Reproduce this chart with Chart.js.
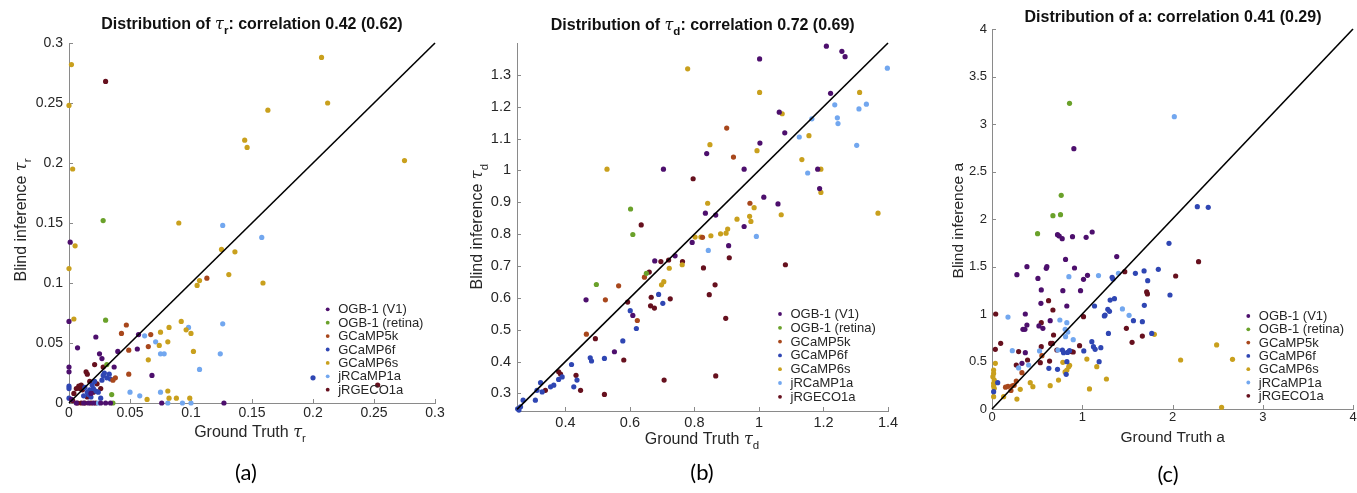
<!DOCTYPE html>
<html><head><meta charset="utf-8">
<script src="https://cdn.jsdelivr.net/npm/chart.js@4.4.1/dist/chart.umd.min.js"></script>
<style>
html,body{margin:0;padding:0;background:#fff;overflow:hidden;width:1357px;height:493px;position:relative;}
canvas{position:absolute;top:0;}
</style></head><body>
<canvas id="ca" width="460" height="493" style="left:0px"></canvas>
<canvas id="cb" width="460" height="493" style="left:455px"></canvas>
<canvas id="cc" width="460" height="493" style="left:915px"></canvas>
<script>
// ---------- series names & colours ----------
const SERIES = ['OGB-1 (V1)','OGB-1 (retina)','GCaMP5k','GCaMP6f','GCaMP6s','jRCaMP1a','jRGECO1a'];
const COLORS = ['#4d0f6d','#6aa12a','#a8471c','#2f46b3','#c9a01d','#72a7ef','#66101e'];

// ---------- panel (a): tau_r ----------
const A_TICKS = [0,0.05,0.1,0.15,0.2,0.25,0.3];
const A_OGB1_V1 = [[0.001,0.134],[0,0.068],[0.007,0.046],[0.022,0.055],[0.025,0.041],[0.027,0.037],[0.040,0.043],[0.056,0.045],[0.057,0.057],[0.068,0.023],[0.037,0.030],[0,0.030],[0,0.026],[0.127,0],[0.076,0],[0.006,0],[0.012,0],[0.016,0],[0.020,0],[0.026,0],[0.030,0],[0.034,0],[0.018,0.008],[0.002,0.003]];
const A_OGB1_RET = [[0.028,0.152],[0.030,0.069],[0.031,0.032],[0.035,0.007],[0.036,0]];
const A_GCAMP5K = [[0.113,0.104],[0.047,0.065],[0.043,0.058],[0.049,0.044],[0.049,0.024],[0.065,0.047],[0.067,0.057],[0.038,0.021],[0.036,0.019]];
const A_GCAMP6F = [[0.200,0.021],[0.028,0.023],[0.031,0.021],[0.034,0.020],[0.027,0.019],[0.029,0.025],[0.020,0.012],[0.017,0.011],[0.016,0.007],[0.022,0.010],[0.018,0.005],[0.024,0.009],[0.013,0.013],[0.019,0.015],[0.015,0.009],[0.026,0.004],[0,0.014],[0,0.012],[0,0.004],[0.021,0.018],[0.033,0.024],[0.012,0.006]];
const A_GCAMP6S = [[0.002,0.282],[0,0.248],[0.003,0.195],[0.005,0.131],[0,0.112],[0.004,0.070],[0.207,0.288],[0.212,0.250],[0.163,0.244],[0.144,0.219],[0.146,0.213],[0.275,0.202],[0.090,0.150],[0.125,0.128],[0.136,0.126],[0.131,0.107],[0.107,0.102],[0.105,0.098],[0.159,0.100],[0.092,0.068],[0.082,0.063],[0.075,0.059],[0.096,0.061],[0.100,0.058],[0.102,0.043],[0.081,0.051],[0.065,0.036],[0.074,0.048],[0.081,0.010],[0.064,0.003],[0.082,0.004],[0.088,0.004],[0.099,0.004]];
const A_JRCAMP1A = [[0.126,0.148],[0.158,0.138],[0.098,0.063],[0.126,0.066],[0.062,0.056],[0.071,0.051],[0.075,0.041],[0.078,0.041],[0.124,0.041],[0.107,0.028],[0.050,0.009],[0.058,0.006],[0.075,0.009],[0.081,0],[0.093,0],[0.100,0],[0.024,0]];
const A_JRGECO1A = [[0.030,0.268],[0.253,0.015],[0.021,0.032],[0.014,0.026],[0.015,0.024],[0.008,0.014],[0.009,0.012],[0.010,0.015],[0.011,0.011],[0.004,0.008],[0.028,0.030],[0.017,0.018],[0.012,0.013],[0.006,0.012],[0.023,0.016],[0.026,0.012],[0.020,0.009],[0.007,0],[0.010,0],[0.013,0],[0.018,0],[0.022,0],[0.003,0.002],[0.015,0.005]];

// ---------- panel (b): tau_d ----------
const B_XTICKS = [0.4,0.6,0.8,1,1.2,1.4];
const B_YTICKS = [0.3,0.4,0.5,0.6,0.7,0.8,0.9,1,1.1,1.2,1.3];
const B_OGB1_V1 = [[1.209,1.390],[1.257,1.374],[1.267,1.357],[1.002,1.350],[1.222,1.242],[1.063,1.183],[1.080,1.118],[1.003,1.086],[0.838,1.053],[0.704,1.004],[0.954,1.004],[1.182,1.004],[1.188,0.943],[1.015,0.916],[1.059,0.895],[0.834,0.866],[0.866,0.860],[0.954,0.824],[0.793,0.774],[0.906,0.764],[0.677,0.716],[0.740,0.732],[0.464,0.594],[0.609,0.545],[0.552,0.431]];
const B_OGB1_RET = [[0.602,0.879],[0.609,0.799],[0.496,0.642],[0.651,0.677]];
const B_GCAMP5K = [[0.900,1.133],[0.921,1.042],[0.972,0.897],[0.825,0.790],[0.645,0.665],[0.565,0.638],[0.524,0.594],[0.623,0.529],[0.465,0.486]];
const B_GCAMP6F = [[0.256,0.248],[0.261,0.258],[0.269,0.279],[0.307,0.279],[0.323,0.334],[0.328,0.305],[0.312,0.310],[0.354,0.321],[0.364,0.326],[0.379,0.344],[0.390,0.352],[0.419,0.391],[0.426,0.321],[0.436,0.342],[0.477,0.412],[0.481,0.402],[0.521,0.410],[0.578,0.465],[0.620,0.504],[0.601,0.560],[0.689,0.611],[0.702,0.583],[0.252,0.252]];
const B_GCAMP6S = [[0.779,1.319],[1.002,1.245],[1.312,1.245],[0.529,1.004],[0.848,1.081],[1.072,1.178],[0.994,1.062],[1.155,1.109],[1.133,1.034],[1.192,1.004],[1.192,0.931],[1.369,0.866],[0.841,0.897],[0.985,0.883],[0.971,0.856],[0.975,0.840],[0.932,0.847],[1.069,0.861],[0.903,0.816],[0.898,0.803],[0.881,0.801],[0.851,0.795],[0.802,0.791],[0.820,0.791],[0.722,0.693],[0.762,0.704],[0.705,0.651],[0.698,0.641]];
const B_JRCAMP1A = [[1.398,1.321],[1.235,1.206],[1.333,1.208],[1.310,1.193],[1.243,1.165],[1.245,1.147],[1.164,1.162],[1.125,1.105],[1.151,0.992],[1.303,1.079],[0.992,0.793],[0.843,0.749]];
const B_JRGECO1A = [[0.796,0.974],[0.635,0.829],[0.696,0.714],[0.720,0.719],[0.763,0.714],[0.660,0.681],[0.828,0.694],[0.908,0.726],[1.082,0.704],[0.864,0.641],[0.846,0.610],[0.666,0.602],[0.725,0.597],[0.593,0.587],[0.664,0.575],[0.676,0.568],[0.897,0.536],[0.493,0.472],[0.581,0.405],[0.379,0.368],[0.385,0.361],[0.433,0.357],[0.338,0.310],[0.447,0.310],[0.521,0.297],[0.706,0.342],[0.866,0.355]];

// ---------- panel (c): a ----------
const C_XTICKS = [0,1,2,3,4];
const C_YTICKS = [0,0.5,1,1.5,2,2.5,3,3.5,4];
const C_OGB1_V1 = [[0.907,2.740],[0.726,1.835],[0.745,1.821],[0.778,1.793],[0.892,1.814],[1.043,1.807],[1.110,1.863],[1.382,1.604],[0.815,1.575],[0.914,1.484],[0.387,1.498],[0.601,1.481],[0.608,1.498],[0.276,1.414],[0.509,1.375],[1.014,1.365],[1.058,1.407],[0.546,1.253],[0.785,1.246],[0.981,1.246],[0.542,1.112],[0.829,1.084],[0.369,1.000],[0.387,0.884],[0.645,0.930],[0.343,0.839],[0.365,0.839],[0.520,0.874],[0.564,0.849],[0.369,0.593],[0.332,0.481]];
const C_OGB1_RET = [[0.859,3.218],[0.767,2.249],[0.759,2.046],[0.675,2.035],[0.505,1.846]];
const C_GCAMP5K = [[0.177,0.239],[0.225,0.245],[0.245,0.250],[0.210,0.195],[0.269,0.295],[0.332,0.382],[0.553,0.561],[0.150,0.230]];
const C_GCAMP6F = [[2.275,2.130],[2.396,2.123],[1.961,1.744],[1.843,1.470],[1.685,1.453],[1.589,1.428],[1.725,1.351],[1.331,1.386],[1.340,1.368],[1.357,1.161],[1.309,1.147],[1.136,1.084],[1.283,1.049],[1.302,1.028],[1.253,0.989],[1.245,0.980],[1.688,1.091],[1.972,1.200],[1.567,0.930],[1.666,0.919],[1.770,0.796],[1.290,0.796],[1.106,0.709],[1.124,0.656],[1.143,0.628],[1.206,0.646],[1.017,0.611],[0.859,0.614],[0.837,0.596],[0.793,0.593],[0.780,0.620],[0.830,0.498],[1.187,0.498],[0.630,0.428],[0.726,0.418],[0.822,0.365],[0.063,0.277],[0.018,0.182]];
const C_GCAMP6S = [[2.544,0.018],[2.489,0.674],[2.665,0.523],[2.090,0.516],[1.799,0.786],[1.051,0.526],[1.161,0.446],[1.268,0.316],[1.080,0.211],[0.860,0.460],[0.850,0.445],[0.830,0.410],[0.810,0.390],[0.737,0.305],[0.645,0.246],[0.785,0.491],[0.424,0.277],[0.453,0.235],[0.313,0.207],[0.276,0.105],[0.129,0.130],[0.018,0.242],[0.037,0.481],[0.018,0.410],[0.018,0.375],[0.010,0.340],[0.025,0.305],[0.018,0.270],[0.025,0.218],[0.018,0.130]];
const C_JRCAMP1A = [[2.020,3.077],[0.852,1.393],[1.180,1.404],[1.401,1.428],[1.445,1.053],[1.519,0.986],[0.177,0.968],[0.752,0.937],[0.829,0.909],[0.811,0.839],[0.840,0.810],[0.900,0.730],[0.815,0.761],[0.225,0.614],[0.527,0.611],[0.730,0.621],[0.406,0.463],[0.295,0.432]];
const C_JRGECO1A = [[2.289,1.551],[2.035,1.400],[1.471,1.446],[1.714,1.232],[1.722,1.211],[1.489,0.849],[1.552,0.702],[1.666,0.768],[1.014,0.972],[0.970,0.667],[0.881,0.604],[0.900,0.600],[0.627,1.140],[0.675,1.042],[0.682,0.779],[0.546,0.909],[0.546,0.656],[0.650,0.690],[0.670,0.690],[0.719,0.621],[0.638,0.505],[0.535,0.488],[0.394,0.516],[0.295,0.604],[0.269,0.463],[0.096,0.691],[0.037,0.628],[0.041,1.000]];

// ---------- texts ----------
const TITLES = ['Distribution of τ_r: correlation 0.42 (0.62)','Distribution of τ_d: correlation 0.72 (0.69)','Distribution of a: correlation 0.41 (0.29)'];
const XLABELS = ['Ground Truth τ_r','Ground Truth τ_d','Ground Truth a'];
const YLABELS = ['Blind inference τ_r','Blind inference τ_d','Blind inference a'];
const CAPTIONS = ['(a)','(b)','(c)'];

// ---------- helpers ----------
const SANS = "'Liberation Sans', Arial, Helvetica, sans-serif";
function parseRich(str){
  const segs=[]; let buf='';
  for(let i=0;i<str.length;i++){
    const c=str[i];
    if(c==='_'){ if(buf){segs.push({t:buf});buf='';} segs.push({t:str[i+1],sub:true}); i++; }
    else if(c==='τ'){ if(buf){segs.push({t:buf});buf='';} segs.push({t:'τ',greek:true}); }
    else buf+=c;
  }
  if(buf) segs.push({t:buf});
  return segs;
}
function setF(ctx,s,size,bold){
  const sz = s.sub ? size*0.72 : size;
  if(s.greek) ctx.font = `italic ${sz}px 'DejaVu Serif', serif`;
  else ctx.font = `${bold?'bold ':''}${sz}px ${SANS}`;
}
function drawRich(ctx,str,cx,cy,size,bold,rot,color){
  const segs=parseRich(str);
  ctx.save(); ctx.translate(cx,cy); if(rot) ctx.rotate(-Math.PI/2);
  let total=0; segs.forEach(s=>{setF(ctx,s,size,bold); total+=ctx.measureText(s.t).width;});
  let x=-total/2; ctx.textBaseline='alphabetic'; ctx.textAlign='left'; ctx.fillStyle=color;
  const base=size*0.36;
  segs.forEach(s=>{setF(ctx,s,size,bold); ctx.fillText(s.t,x,base+(s.sub?size*0.32:0)); x+=ctx.measureText(s.t).width;});
  ctx.restore();
}

const inwardTicks = {
  id:'inwardTicks',
  beforeDatasetsDraw(chart){
    const {ctx, chartArea:a} = chart; const xs=chart.scales.x, ys=chart.scales.y;
    ctx.save(); ctx.strokeStyle='#8a8a8a'; ctx.lineWidth=1;
    xs.ticks.forEach(t=>{const p=Math.round(xs.getPixelForValue(t.value))+0.5; ctx.beginPath(); ctx.moveTo(p,a.bottom); ctx.lineTo(p,a.bottom-4); ctx.stroke();});
    ys.ticks.forEach(t=>{const p=Math.round(ys.getPixelForValue(t.value))+0.5; ctx.beginPath(); ctx.moveTo(a.left,p); ctx.lineTo(a.left+4,p); ctx.stroke();});
    ctx.restore();
  }
};
const figText = {
  id:'figText',
  afterDraw(chart,args,o){
    const ctx=chart.ctx;
    drawRich(ctx,o.title,o.titlePos[0],o.titlePos[1],16,true,false,'#111');
    drawRich(ctx,o.xLabel,o.xPos[0],o.xPos[1],o.labelSize,false,false,'#262626');
    drawRich(ctx,o.yLabel,o.yPos[0],o.yPos[1],o.labelSize,false,true,'#262626');
    ctx.save(); ctx.font="22px Lato, 'Open Sans', sans-serif"; ctx.fillStyle='#000'; ctx.textAlign='center'; ctx.textBaseline='middle';
    ctx.fillText(o.caption,o.capPos[0],o.capPos[1]); ctx.restore();
    // legend
    ctx.save(); ctx.font=`13px ${SANS}`; ctx.textBaseline='middle'; ctx.textAlign='left';
    let row=0;
    chart.data.datasets.forEach(ds=>{
      if(!ds.label) return;
      const y=o.legPos[1]+row*o.legStep;
      ctx.fillStyle=ds.backgroundColor; ctx.beginPath(); ctx.arc(o.legPos[0],y,1.9,0,Math.PI*2); ctx.fill();
      ctx.fillStyle='#262626'; ctx.fillText(ds.label,o.legPos[0]+10.5,y+0.5);
      row++;
    });
    ctx.restore();
  }
};

function scaleOpts(axis,min,max,ticksArr,fontSize,pad,fit){
  return {
    type:'linear', position: axis==='x'?'bottom':'left', min, max,
    grid:{display:false, drawTicks:false},
    border:{display:true, color:'#8a8a8a', width:1},
    afterBuildTicks: s => { s.ticks = ticksArr.map(v=>({value:v})); },
    afterFit: s => { if(axis==='x') s.height=fit; else s.width=fit; },
    ticks:{autoSkip:false, maxRotation:0, minRotation:0, padding:pad, color:'#262626',
      font:{family:SANS, size:fontSize}, callback:v=>String(v)}
  };
}

function makeChart(id, seriesData, diag, cfg){
  const datasets=[{label:'', data:diag.map(p=>({x:p[0],y:p[1]})), showLine:true, borderColor:'#000', borderWidth:1.6, pointRadius:0, clip:false}];
  seriesData.forEach((arr,i)=>datasets.push({
    label:SERIES[i], data:arr.map(p=>({x:p[0],y:p[1]})), backgroundColor:COLORS[i], borderColor:COLORS[i],
    borderWidth:0, pointRadius:2.6, pointHoverRadius:2.6, clip:false
  }));
  return new Chart(document.getElementById(id),{
    type:'scatter',
    data:{datasets},
    options:{
      responsive:false, animation:false, devicePixelRatio:1,
      layout:{padding:cfg.padding},
      scales:{
        x:scaleOpts('x',cfg.xr[0],cfg.xr[1],cfg.xt,cfg.tickSize,cfg.xpad,30),
        y:scaleOpts('y',cfg.yr[0],cfg.yr[1],cfg.yt,cfg.tickSize,cfg.ypad,cfg.yfit)
      },
      plugins:{legend:{display:false}, tooltip:{enabled:false}, figText:cfg.text}
    },
    plugins:[inwardTicks, figText]
  });
}

makeChart('ca',[A_OGB1_V1,A_OGB1_RET,A_GCAMP5K,A_GCAMP6F,A_GCAMP6S,A_JRCAMP1A,A_JRGECO1A],[[0,0],[0.3,0.3]],{
  padding:{left:19,right:25,top:43,bottom:60}, yfit:50, xr:[0,0.3], yr:[0,0.3], xt:A_TICKS, yt:A_TICKS, tickSize:14, xpad:2, ypad:6,
  text:{title:TITLES[0], titlePos:[252,23], xLabel:XLABELS[0], xPos:[250,431], yLabel:YLABELS[0], yPos:[20,220], labelSize:16,
    caption:CAPTIONS[0], capPos:[246,473], legPos:[327.7,309.3], legStep:13.4}
});
makeChart('cb',[B_OGB1_V1,B_OGB1_RET,B_GCAMP5K,B_GCAMP6F,B_GCAMP6S,B_JRCAMP1A,B_JRGECO1A],[[0.25,0.25],[1.4,1.4]],{
  padding:{left:12,right:27,top:43,bottom:52}, yfit:50, xr:[0.25,1.4], yr:[0.245,1.4], xt:B_XTICKS, yt:B_YTICKS, tickSize:14.5, xpad:3, ypad:6,
  text:{title:TITLES[1], titlePos:[247.7,24], xLabel:XLABELS[1], xPos:[247,438], yLabel:YLABELS[1], yPos:[21.7,226.7], labelSize:16,
    caption:CAPTIONS[1], capPos:[247,473], legPos:[325,314], legStep:13.8}
});
makeChart('cc',[C_OGB1_V1,C_OGB1_RET,C_GCAMP5K,C_GCAMP6F,C_GCAMP6S,C_JRCAMP1A,C_JRGECO1A],[[0,0],[4,4]],{
  padding:{left:37,right:22,top:29,bottom:54}, yfit:40, xr:[0,4], yr:[0,4], xt:C_XTICKS, yt:C_YTICKS, tickSize:13, xpad:1, ypad:5,
  text:{title:TITLES[2], titlePos:[258,16], xLabel:XLABELS[2], xPos:[257.7,436], yLabel:YLABELS[2], yPos:[42.7,220.7], labelSize:15.5,
    caption:CAPTIONS[2], capPos:[253,475], legPos:[333.3,316], legStep:13.3}
});
</script>
</body></html>
